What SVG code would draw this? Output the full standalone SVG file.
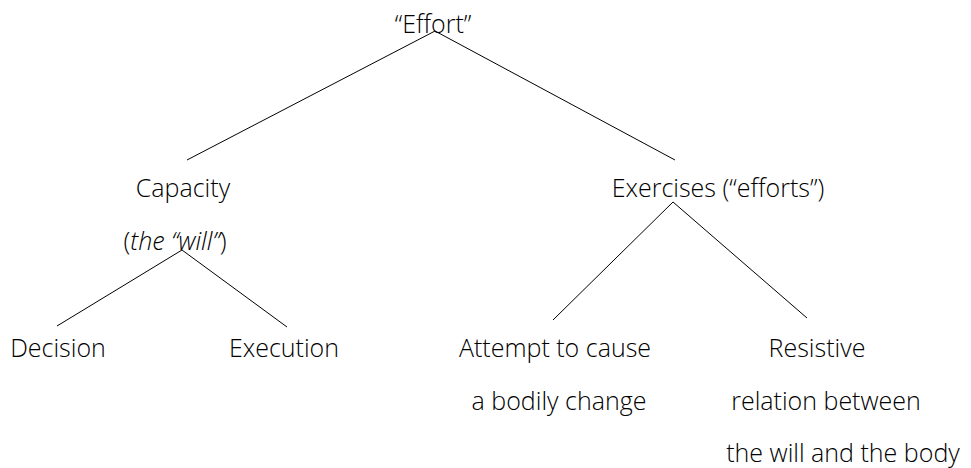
<svg xmlns="http://www.w3.org/2000/svg" width="971" height="468" viewBox="0 0 971 468">
<style>
text{font-family:"Open Sans","Liberation Sans",sans-serif;font-weight:300;font-size:25px;fill:#000;text-anchor:middle}
.c line{stroke:#000;stroke-width:1}
</style>
<rect width="971" height="468" fill="#fff"/>
<g class="c" id="connectors">
<line x1="435" y1="31" x2="187" y2="160"/>
<line x1="435" y1="31" x2="675" y2="160"/>
<line x1="673" y1="202" x2="553" y2="320"/>
<line x1="673" y1="202" x2="807" y2="318"/>
<line x1="182" y1="250" x2="57" y2="326"/>
<line x1="182" y1="250" x2="287" y2="327"/>
</g>
<g id="effort"><text x="433" y="33">“Effort”</text></g>
<g id="capacity"><text x="183" y="197">Capacity</text><text x="175" y="250">(<tspan font-style="italic">the “will”</tspan>)</text></g>
<g id="exercises"><text x="718" y="197">Exercises (“efforts”)</text></g>
<g id="decision"><text x="58" y="357">Decision</text></g>
<g id="execution"><text x="284" y="357">Execution</text></g>
<g id="attempt"><text x="555" y="357">Attempt to cause</text><text x="559" y="410">a bodily change</text></g>
<g id="resistive"><text x="817" y="357">Resistive</text><text x="826" y="410">relation between</text><text x="843" y="462">the will and the body</text></g>
</svg>
